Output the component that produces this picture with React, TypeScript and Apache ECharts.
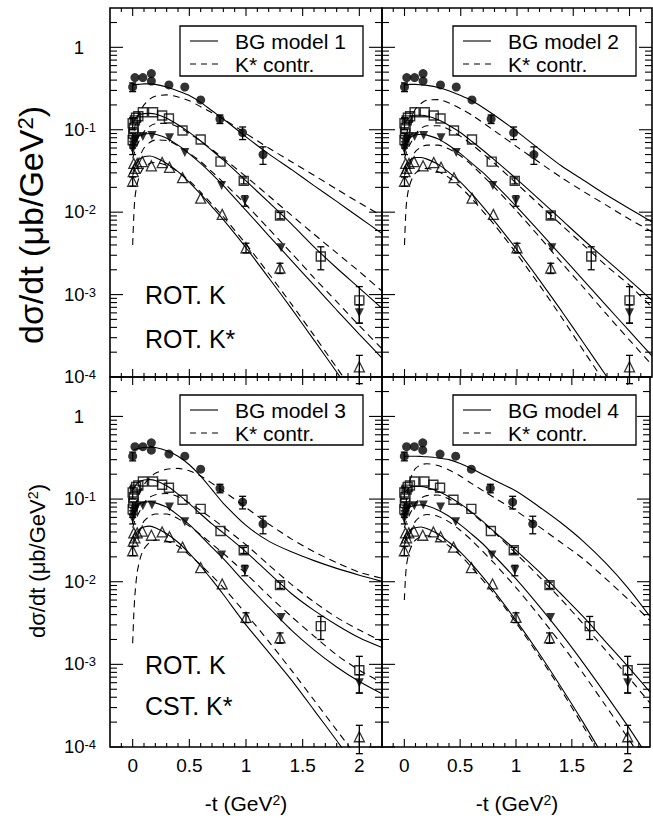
import React, { useEffect, useRef } from 'react';
import * as echarts from 'echarts';

const FONT = "'Liberation Sans', Arial, Helvetica, sans-serif";
const X_MIN = -0.2;
const X_MAX = 2.2;
const Y_MIN = 1e-4;
const Y_MAX = 3;

// ---------- experimental data (same in all four panels) ----------
const CIRCLE_T = [0.0, 0.02, 0.09, 0.165, 0.165, 0.32, 0.46, 0.6, 0.77, 0.97, 1.15];
const CIRCLE_V = [0.33, 0.43, 0.43, 0.48, 0.39, 0.35, 0.33, 0.23, 0.135, 0.092, 0.05];
const CIRCLE_E = [0.04, 0, 0, 0, 0, 0, 0, 0, 0.016, 0.016, 0.012];

const SQUARE_T = [0.0, 0.005, 0.01, 0.0, 0.02, 0.03, 0.05, 0.09, 0.18, 0.26, 0.32, 0.44, 0.6, 0.775, 0.98, 1.3, 1.66, 2.0];
const SQUARE_V = [0.075, 0.09, 0.105, 0.12, 0.13, 0.14, 0.146, 0.163, 0.163, 0.149, 0.137, 0.098, 0.076, 0.041, 0.024, 0.0091, 0.0029, 0.00085];
const SQUARE_E = [0.015, 0, 0, 0.02, 0, 0, 0, 0, 0, 0, 0, 0, 0, 0, 0.002, 0.0008, 0.0009, 0.0004];

const DOWN_T = [0.0, 0.005, 0.01, 0.02, 0.035, 0.09, 0.17, 0.325, 0.46, 0.785, 0.99, 1.31, 2.0];
const DOWN_V = [0.058, 0.065, 0.07, 0.075, 0.08, 0.083, 0.085, 0.08, 0.053, 0.021, 0.0138, 0.0037, 0.0006];
const DOWN_E = [0.008, 0, 0, 0, 0, 0, 0, 0, 0, 0, 0.002, 0, 0.00015];

const UP_T = [0.0, 0.005, 0.01, 0.02, 0.04, 0.085, 0.165, 0.26, 0.325, 0.44, 0.6, 0.79, 1.0, 1.3, 2.0];
const UP_V = [0.0237, 0.031, 0.039, 0.034, 0.039, 0.041, 0.0365, 0.04, 0.035, 0.0262, 0.0148, 0.0094, 0.0037, 0.0021, 0.000133];
const UP_E = [0.003, 0, 0, 0, 0, 0, 0, 0, 0, 0, 0, 0, 0.0005, 0.0003, 0.00005];

// ---------- model curves ----------
const XS = [0, 0.05, 0.1, 0.15, 0.2, 0.3, 0.4, 0.5, 0.6, 0.7, 0.8, 1.0, 1.2, 1.4, 1.6, 1.8, 2.0, 2.2];
const XD = [0, 0.01, 0.02, 0.04, 0.07, 0.1, 0.15, 0.2, 0.3, 0.4, 0.5, 0.6, 0.8, 1.0, 1.2, 1.4, 1.6, 1.8, 2.0, 2.2];

// model 1
const M1_SOLID_A = [0.35, 0.355, 0.36, 0.36, 0.355, 0.33, 0.295, 0.26, 0.215, 0.17, 0.135, 0.082, 0.051, 0.033, 0.021, 0.0135, 0.0086, 0.0055];
const M1_DASH_A = [0.07, 0.09, 0.11, 0.14, 0.17, 0.2, 0.235, 0.255, 0.265, 0.25, 0.225, 0.19, 0.135, 0.09, 0.06, 0.041, 0.028, 0.019, 0.013, 0.009];
const M1_SOLID_B = [0.12, 0.15, 0.157, 0.158, 0.155, 0.138, 0.115, 0.093, 0.073, 0.056, 0.043, 0.024, 0.0132, 0.0072, 0.0038, 0.0021, 0.0012, 0.00068];
const M1_DASH_B = [0.045, 0.05, 0.055, 0.065, 0.08, 0.095, 0.11, 0.118, 0.12, 0.108, 0.09, 0.073, 0.045, 0.027, 0.0158, 0.0092, 0.0054, 0.0032, 0.0019, 0.0011];
const M1_SOLID_C = [0.065, 0.083, 0.089, 0.09, 0.088, 0.079, 0.065, 0.051, 0.039, 0.029, 0.021, 0.0105, 0.0052, 0.0026, 0.0013, 0.00065, 0.00033, 0.00017];
const M1_DASH_C = [0.028, 0.03, 0.033, 0.04, 0.05, 0.06, 0.07, 0.075, 0.074, 0.064, 0.052, 0.041, 0.023, 0.0123, 0.0063, 0.0032, 0.0016, 0.00082, 0.00042, 0.00022];
const M1_SOLID_D = [0.03, 0.043, 0.047, 0.048, 0.046, 0.039, 0.031, 0.023, 0.0165, 0.0116, 0.0081, 0.0037, 0.0016, 0.00068, 0.00028, 0.000115, 0.000046, 0.000018];
const M1_DASH_D = [0.004, 0.009, 0.015, 0.022, 0.03, 0.035, 0.039, 0.04, 0.037, 0.031, 0.024, 0.0175, 0.0088, 0.0041, 0.0018, 0.00077, 0.00032, 0.00013, 0.000053, 0.000021];

// model 2
const M2_SOLID_A = [0.35, 0.355, 0.355, 0.35, 0.345, 0.325, 0.295, 0.26, 0.225, 0.185, 0.15, 0.095, 0.058, 0.036, 0.024, 0.016, 0.011, 0.0076];
const M2_DASH_A = [0.06, 0.075, 0.09, 0.115, 0.15, 0.18, 0.21, 0.228, 0.232, 0.21, 0.18, 0.15, 0.097, 0.062, 0.04, 0.026, 0.0175, 0.012, 0.0082, 0.0058];
const M2_SOLID_B = [0.12, 0.145, 0.15, 0.15, 0.147, 0.132, 0.112, 0.092, 0.072, 0.056, 0.043, 0.025, 0.0142, 0.008, 0.0045, 0.0026, 0.0015, 0.00085];
const M2_DASH_B = [0.045, 0.05, 0.055, 0.063, 0.075, 0.09, 0.105, 0.112, 0.112, 0.1, 0.083, 0.066, 0.039, 0.022, 0.0123, 0.0069, 0.0039, 0.0022, 0.0013, 0.0007];
const M2_SOLID_C = [0.065, 0.08, 0.087, 0.088, 0.086, 0.077, 0.064, 0.051, 0.039, 0.03, 0.022, 0.0115, 0.0058, 0.0029, 0.00145, 0.00072, 0.00036, 0.00018];
const M2_DASH_C = [0.028, 0.03, 0.032, 0.037, 0.047, 0.055, 0.062, 0.065, 0.065, 0.058, 0.048, 0.037, 0.02, 0.0102, 0.005, 0.0024, 0.00118, 0.00057, 0.00028, 0.00014];
const M2_SOLID_D = [0.03, 0.043, 0.046, 0.046, 0.044, 0.038, 0.03, 0.023, 0.0165, 0.0115, 0.0078, 0.0035, 0.0015, 0.00062, 0.00025, 0.0001, 0.00004, 0.000016];
const M2_DASH_D = [0.004, 0.009, 0.014, 0.02, 0.026, 0.03, 0.033, 0.034, 0.031, 0.026, 0.02, 0.0145, 0.007, 0.0031, 0.0013, 0.00052, 0.0002, 0.000078, 0.00003, 0.000012];

// model 3
const M3_SOLID_A = [0.39, 0.41, 0.42, 0.425, 0.42, 0.385, 0.33, 0.26, 0.19, 0.13, 0.089, 0.048, 0.031, 0.023, 0.018, 0.0145, 0.012, 0.0101];
const M3_DASH_A = [0.06, 0.07, 0.08, 0.1, 0.125, 0.15, 0.18, 0.205, 0.23, 0.235, 0.22, 0.19, 0.125, 0.079, 0.05, 0.033, 0.023, 0.017, 0.013, 0.011];
const M3_SOLID_B = [0.13, 0.16, 0.17, 0.172, 0.168, 0.145, 0.115, 0.088, 0.066, 0.05, 0.039, 0.023, 0.0128, 0.0072, 0.0045, 0.003, 0.0021, 0.0016];
const M3_DASH_B = [0.045, 0.05, 0.055, 0.062, 0.075, 0.09, 0.105, 0.113, 0.117, 0.107, 0.09, 0.073, 0.046, 0.028, 0.016, 0.0093, 0.0057, 0.0037, 0.0026, 0.0019];
const M3_SOLID_C = [0.07, 0.087, 0.092, 0.093, 0.09, 0.08, 0.064, 0.049, 0.036, 0.026, 0.019, 0.0095, 0.0049, 0.0026, 0.0015, 0.00093, 0.00062, 0.00044];
const M3_DASH_C = [0.028, 0.03, 0.032, 0.036, 0.045, 0.054, 0.062, 0.066, 0.066, 0.058, 0.047, 0.037, 0.022, 0.0125, 0.0068, 0.0038, 0.0022, 0.0013, 0.00085, 0.0006];
const M3_SOLID_D = [0.03, 0.042, 0.046, 0.047, 0.045, 0.038, 0.03, 0.022, 0.0155, 0.0105, 0.007, 0.003, 0.0014, 0.00065, 0.00028, 0.00012, 0.00005, 0.000022];
const M3_DASH_D = [0.0018, 0.004, 0.007, 0.013, 0.02, 0.025, 0.03, 0.032, 0.031, 0.027, 0.021, 0.016, 0.0085, 0.0041, 0.0019, 0.00085, 0.00037, 0.00016, 0.00007, 0.00003];

// model 4
const M4_SOLID_A = [0.33, 0.33, 0.33, 0.328, 0.325, 0.315, 0.3, 0.27, 0.235, 0.2, 0.17, 0.125, 0.082, 0.052, 0.031, 0.017, 0.0085, 0.0038];
const M4_DASH_A = [0.06, 0.08, 0.1, 0.15, 0.2, 0.235, 0.26, 0.268, 0.255, 0.225, 0.19, 0.155, 0.105, 0.072, 0.047, 0.03, 0.019, 0.011, 0.0062, 0.0034];
const M4_SOLID_B = [0.12, 0.138, 0.142, 0.142, 0.138, 0.124, 0.107, 0.088, 0.07, 0.054, 0.041, 0.024, 0.0135, 0.0072, 0.0038, 0.0019, 0.00095, 0.00046];
const M4_DASH_B = [0.045, 0.05, 0.055, 0.062, 0.075, 0.09, 0.103, 0.11, 0.112, 0.1, 0.085, 0.068, 0.04, 0.022, 0.0118, 0.0062, 0.0031, 0.0015, 0.00072, 0.00034];
const M4_SOLID_C = [0.065, 0.08, 0.084, 0.085, 0.083, 0.074, 0.062, 0.049, 0.038, 0.029, 0.021, 0.0108, 0.0052, 0.0024, 0.00105, 0.00044, 0.00018, 0.00007];
const M4_DASH_C = [0.028, 0.03, 0.032, 0.036, 0.045, 0.054, 0.062, 0.065, 0.062, 0.053, 0.042, 0.032, 0.017, 0.0085, 0.004, 0.0018, 0.00078, 0.00032, 0.00013, 0.00005];
const M4_SOLID_D = [0.03, 0.042, 0.045, 0.046, 0.044, 0.038, 0.03, 0.023, 0.0165, 0.0115, 0.0078, 0.0034, 0.0014, 0.00054, 0.0002, 0.00007, 0.000024, 0.000008];
const M4_DASH_D = [0.006, 0.011, 0.016, 0.022, 0.028, 0.032, 0.035, 0.036, 0.033, 0.027, 0.021, 0.015, 0.0073, 0.0032, 0.0013, 0.0005, 0.00018, 0.000063, 0.000021, 0.000007];

const PANELS = [
  { solid: [M1_SOLID_A, M1_SOLID_B, M1_SOLID_C, M1_SOLID_D], dash: [M1_DASH_A, M1_DASH_B, M1_DASH_C, M1_DASH_D], model: 'BG model 1' },
  { solid: [M2_SOLID_A, M2_SOLID_B, M2_SOLID_C, M2_SOLID_D], dash: [M2_DASH_A, M2_DASH_B, M2_DASH_C, M2_DASH_D], model: 'BG model 2' },
  { solid: [M3_SOLID_A, M3_SOLID_B, M3_SOLID_C, M3_SOLID_D], dash: [M3_DASH_A, M3_DASH_B, M3_DASH_C, M3_DASH_D], model: 'BG model 3' },
  { solid: [M4_SOLID_A, M4_SOLID_B, M4_SOLID_C, M4_SOLID_D], dash: [M4_DASH_A, M4_DASH_B, M4_DASH_C, M4_DASH_D], model: 'BG model 4' },
];

// tick positions
const Y_DECADES = [1e-4, 1e-3, 1e-2, 1e-1, 1];
const Y_MANTISSAS = [2, 3, 4, 5, 6, 7, 8, 9];
const X_TICK_STEPS = 24; // -0.2 .. 2.2 by 0.1

const GRIDS = [
  { left: 110, top: 8, width: 272, height: 369 },
  { left: 382, top: 8, width: 270, height: 369 },
  { left: 110, top: 377, width: 272, height: 370 },
  { left: 382, top: 377, width: 270, height: 370 },
];

const DASH = [7, 5];

const zip = (a: number[], b: number[]) => a.map((v, i) => [v, b[i]]);

function errData(t: number[], v: number[], e: number[]) {
  const out: number[][] = [];
  t.forEach((x, i) => {
    if (e[i] > 0) out.push([x, v[i] - e[i], v[i] + e[i]]);
  });
  return out;
}

function buildOption() {
  const yTicks: number[][] = [];
  Y_DECADES.forEach((d) => {
    yTicks.push([X_MIN, d, 1]);
    if (d < 1) Y_MANTISSAS.forEach((m) => yTicks.push([X_MIN, m * d, 0]));
  });
  [2].forEach((m) => yTicks.push([X_MIN, m, 0]));
  const xTicks: number[][] = [];
  for (let k = 1; k < X_TICK_STEPS; k++) {
    const x = Math.round((X_MIN + k * 0.1) * 10) / 10;
    xTicks.push([x, Y_MIN, Math.abs(x * 2 - Math.round(x * 2)) < 1e-6 ? 1 : 0]);
  }

  const errs = [
    ...errData(CIRCLE_T, CIRCLE_V, CIRCLE_E),
    ...errData(SQUARE_T, SQUARE_V, SQUARE_E),
    ...errData(DOWN_T, DOWN_V, DOWN_E),
    ...errData(UP_T, UP_V, UP_E),
  ];

  const series: any[] = [];
  PANELS.forEach((p, i) => {
    p.solid.forEach((arr) =>
      series.push({
        type: 'line', xAxisIndex: i, yAxisIndex: i, data: zip(XS, arr), showSymbol: false, symbol: 'none',
        smooth: 0.25, silent: true, z: 3, lineStyle: { color: '#000', width: 1.1 },
      })
    );
    p.dash.forEach((arr) =>
      series.push({
        type: 'line', xAxisIndex: i, yAxisIndex: i, data: zip(XD, arr), showSymbol: false, symbol: 'none',
        smooth: 0.25, silent: true, z: 3, lineStyle: { color: '#000', width: 1.1, type: DASH },
      })
    );
    series.push({
      type: 'custom', xAxisIndex: i, yAxisIndex: i, data: errs, encode: { x: 0, y: [1, 2] }, z: 4, silent: true,
      renderItem: (params: any, api: any) => {
        const a = api.coord([api.value(0), api.value(1)]);
        const b = api.coord([api.value(0), api.value(2)]);
        const w = 3.5;
        const st = { stroke: '#000', lineWidth: 1.3 };
        return {
          type: 'group',
          children: [
            { type: 'line', shape: { x1: a[0], y1: a[1], x2: b[0], y2: b[1] }, style: st },
            { type: 'line', shape: { x1: a[0] - w, y1: a[1], x2: a[0] + w, y2: a[1] }, style: st },
            { type: 'line', shape: { x1: b[0] - w, y1: b[1], x2: b[0] + w, y2: b[1] }, style: st },
          ],
        };
      },
    });
    series.push({
      type: 'scatter', xAxisIndex: i, yAxisIndex: i, data: zip(CIRCLE_T, CIRCLE_V), symbol: 'circle', symbolSize: 9,
      itemStyle: { color: '#000' }, z: 5, silent: true,
    });
    series.push({
      type: 'scatter', xAxisIndex: i, yAxisIndex: i, data: zip(SQUARE_T, SQUARE_V), symbol: 'rect', symbolSize: 9,
      itemStyle: { color: 'rgba(255,255,255,0)', borderColor: '#000', borderWidth: 1.4 }, z: 5, silent: true,
    });
    series.push({
      type: 'scatter', xAxisIndex: i, yAxisIndex: i, data: zip(DOWN_T, DOWN_V), symbol: 'triangle', symbolRotate: 180,
      symbolSize: 9, itemStyle: { color: '#000' }, z: 5, silent: true,
    });
    series.push({
      type: 'scatter', xAxisIndex: i, yAxisIndex: i, data: zip(UP_T, UP_V), symbol: 'triangle', symbolSize: 10,
      itemStyle: { color: 'rgba(255,255,255,0)', borderColor: '#000', borderWidth: 1.3 }, z: 5, silent: true,
    });
    // y ticks (left & right)
    series.push({
      type: 'custom', xAxisIndex: i, yAxisIndex: i, data: yTicks, encode: { x: 0, y: 1 }, clip: false, z: 6, silent: true,
      renderItem: (params: any, api: any) => {
        const v = api.value(1);
        const len = api.value(2) ? 13 : 7;
        const l = api.coord([X_MIN, v]);
        const r = api.coord([X_MAX, v]);
        const st = { stroke: '#000', lineWidth: 1.1 };
        return {
          type: 'group',
          children: [
            { type: 'line', shape: { x1: l[0], y1: l[1], x2: l[0] + len, y2: l[1] }, style: st },
            { type: 'line', shape: { x1: r[0], y1: r[1], x2: r[0] - len, y2: r[1] }, style: st },
          ],
        };
      },
    });
    // x ticks (bottom & top)
    series.push({
      type: 'custom', xAxisIndex: i, yAxisIndex: i, data: xTicks, encode: { x: 0, y: 1 }, clip: false, z: 6, silent: true,
      renderItem: (params: any, api: any) => {
        const x = api.value(0);
        const len = api.value(2) ? 8 : 4;
        const b = api.coord([x, Y_MIN]);
        const t = api.coord([x, Y_MAX]);
        const st = { stroke: '#000', lineWidth: 1.1 };
        return {
          type: 'group',
          children: [
            { type: 'line', shape: { x1: b[0], y1: b[1], x2: b[0], y2: b[1] - len }, style: st },
            { type: 'line', shape: { x1: t[0], y1: t[1], x2: t[0], y2: t[1] + len }, style: st },
          ],
        };
      },
    });
  });

  const xAxis = GRIDS.map((g, i) => ({
    type: 'value', gridIndex: i, min: X_MIN, max: X_MAX, interval: 0.1,
    axisLine: { show: false }, axisTick: { show: false }, splitLine: { show: false },
    axisLabel: {
      show: i >= 2, interval: 0, margin: 9, color: '#000', fontFamily: FONT, fontSize: 19,
      formatter: (v: number) => {
        const r = Math.round(v * 10) / 10;
        if (r < 0 || r > 2) return '';
        return Math.abs(r * 2 - Math.round(r * 2)) < 1e-6 ? String(r) : '';
      },
    },
  }));

  const yAxis = GRIDS.map((g, i) => ({
    type: 'log', logBase: 10, gridIndex: i, min: Y_MIN, max: Y_MAX,
    axisLine: { show: false }, axisTick: { show: false }, splitLine: { show: false }, minorTick: { show: false },
    axisLabel: {
      show: i === 0 || i === 2, interval: 0, margin: 14, color: '#000',
      formatter: (v: number) => {
        const lg = Math.log10(v);
        const e = Math.round(lg);
        if (Math.abs(lg - e) > 1e-6) return '';
        if (e === 0) return '{one|1}';
        return '{b|10}{s|' + e + '}';
      },
      rich: {
        one: { fontSize: 18.5, fontFamily: FONT, color: '#000', padding: [0, 12, 0, 0] },
        b: { fontSize: 18.5, fontFamily: FONT, color: '#000', verticalAlign: 'bottom', lineHeight: 18 },
        s: { fontSize: 13, fontFamily: FONT, color: '#000', verticalAlign: 'top', lineHeight: 13, padding: [0, 0, 9, 0] },
      },
    },
  }));

  const graphic: any[] = [];
  const legendPos = [
    [180, 26], [453, 26], [180, 395], [453, 395],
  ];
  PANELS.forEach((p, i) => {
    const [lx, ly] = legendPos[i];
    graphic.push({
      type: 'rect', shape: { x: lx, y: ly, width: 183, height: 50 }, z: 100,
      style: { fill: '#fff', stroke: '#000', lineWidth: 1.3 },
    });
    graphic.push({
      type: 'line', shape: { x1: lx + 10, y1: ly + 15, x2: lx + 38, y2: ly + 15 }, z: 101,
      style: { stroke: '#000', lineWidth: 1.1 },
    });
    graphic.push({
      type: 'line', shape: { x1: lx + 10, y1: ly + 38, x2: lx + 40, y2: ly + 38 }, z: 101,
      style: { stroke: '#000', lineWidth: 1.1, lineDash: [6, 5] },
    });
    graphic.push({
      type: 'text', x: lx + 55, y: ly + 15, z: 101,
      style: { text: p.model, fill: '#000', font: `21px ${FONT}`, textAlign: 'left', textVerticalAlign: 'middle' },
    });
    graphic.push({
      type: 'text', x: lx + 55, y: ly + 38, z: 101,
      style: { text: 'K* contr.', fill: '#000', font: `21px ${FONT}`, textAlign: 'left', textVerticalAlign: 'middle' },
    });
  });

  const labels = [
    ['ROT. K', 145, 295], ['ROT. K*', 145, 339], ['ROT. K', 145, 665], ['CST. K*', 145, 706],
  ];
  labels.forEach(([t, x, y]) =>
    graphic.push({
      type: 'text', x, y, z: 101,
      style: { text: t, fill: '#000', font: `25px ${FONT}`, textAlign: 'left', textVerticalAlign: 'middle' },
    })
  );

  const yTitle = (x: number, y: number, fs: number) => ({
    type: 'text', x, y, rotation: Math.PI / 2, z: 101,
    style: {
      text: '{a|dσ/dt (μb/GeV}{s|2}{a|)}', textAlign: 'center', textVerticalAlign: 'middle',
      rich: {
        a: { fontSize: fs, fontFamily: FONT, fill: '#000', verticalAlign: 'bottom', lineHeight: fs },
        s: { fontSize: fs * 0.65, fontFamily: FONT, fill: '#000', verticalAlign: 'top', lineHeight: fs * 0.65, padding: [0, 0, fs * 0.45, 0] },
      },
    },
  });
  graphic.push(yTitle(31, 225, 34));
  graphic.push(yTitle(37, 561, 22));

  const xTitle = (x: number) => ({
    type: 'text', x, y: 803, z: 101,
    style: {
      text: '{a|-t (GeV}{s|2}{a|)}', textAlign: 'center', textVerticalAlign: 'middle',
      rich: {
        a: { fontSize: 21, fontFamily: FONT, fill: '#000', verticalAlign: 'bottom', lineHeight: 21 },
        s: { fontSize: 14, fontFamily: FONT, fill: '#000', verticalAlign: 'top', lineHeight: 14, padding: [0, 0, 9, 0] },
      },
    },
  });
  graphic.push(xTitle(246));
  graphic.push(xTitle(517));

  return {
    animation: false,
    backgroundColor: '#fff',
    grid: GRIDS.map((g) => ({ ...g, show: true, borderColor: '#000', borderWidth: 1.6, backgroundColor: 'transparent', containLabel: false })),
    xAxis,
    yAxis,
    series,
    graphic,
  };
}

export default function App() {
  const ref = useRef<HTMLDivElement>(null);
  useEffect(() => {
    if (!ref.current) return;
    const chart = echarts.init(ref.current, null, { renderer: 'svg' });
    chart.setOption(buildOption() as any);
    return () => chart.dispose();
  }, []);
  return <div ref={ref} style={{ position: 'absolute', left: 0, top: 0, width: 653, height: 818, background: '#fff' }} />;
}
